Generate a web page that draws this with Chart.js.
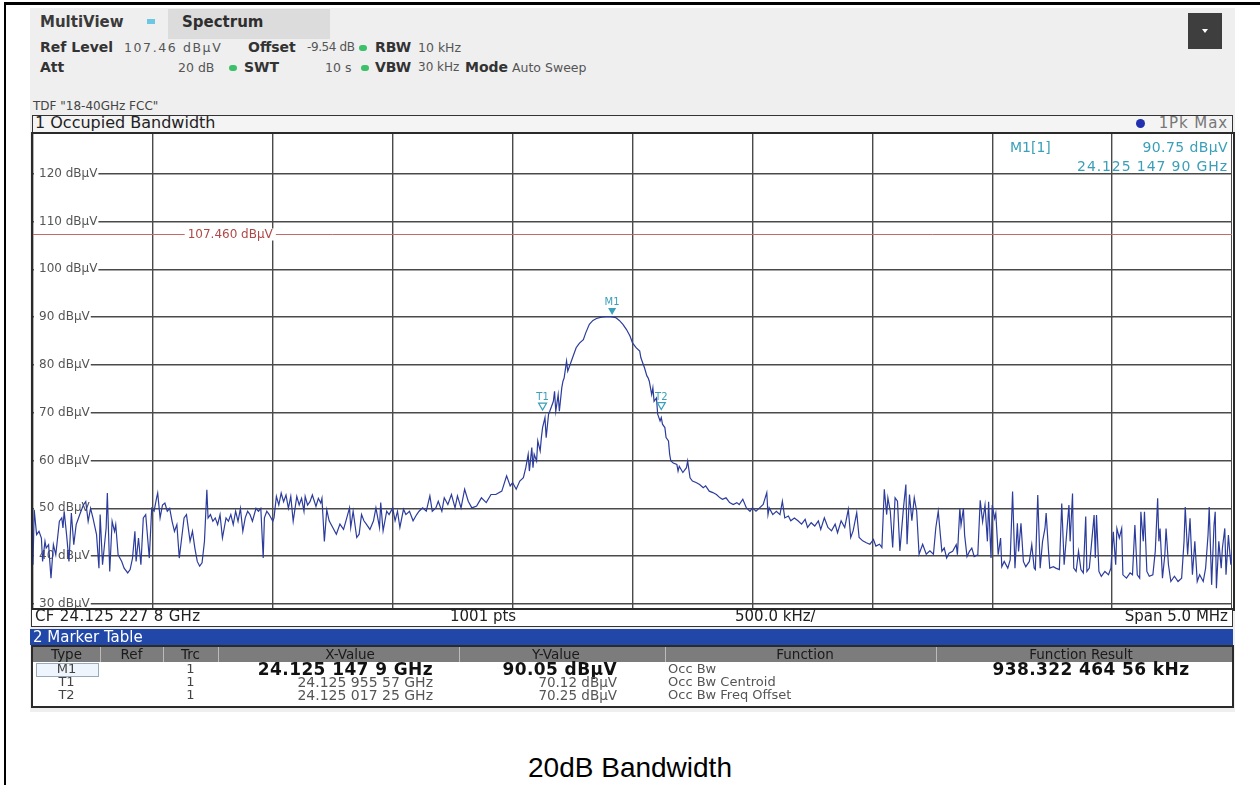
<!DOCTYPE html>
<html><head><meta charset="utf-8">
<script src="https://cdn.jsdelivr.net/npm/chart.js@4"></script>
<style>
body{margin:0;width:1260px;height:785px;background:#fff;position:relative;overflow:hidden;font-family:"DejaVu Sans",sans-serif;color:#333;}
.a{position:absolute;white-space:nowrap;}
.b{font-weight:bold;}
.h2{font-size:14px;line-height:17px;}
.v{font-size:12.5px;line-height:17px;color:#555;}
.dot{position:absolute;width:8px;height:6px;border-radius:3px;background:#3cc06a;}
.tc{position:absolute;white-space:nowrap;text-align:center;}
.tr{position:absolute;white-space:nowrap;text-align:right;}
.th{font-size:13.5px;line-height:15px;color:#1a1a1a;top:647px;}
.r1{top:662px;line-height:14px;}
.r2{top:675px;line-height:14px;}
.r3{top:688px;line-height:14px;}
.sm{font-size:13px;color:#444;}
</style></head><body>
<div class="a" style="left:4px;top:2px;width:1256px;height:3px;background:#000"></div>
<div class="a" style="left:4px;top:2px;width:2px;height:783px;background:#000"></div>
<div class="a" style="left:30px;top:8px;width:1205px;height:704px;background:#efefef"></div>

<div class="a b" style="left:40px;top:13px;font-size:15px;color:#3a3a3a">MultiView</div>
<div class="a" style="left:147px;top:19px;width:8px;height:5px;background:#6cc8e2"></div>
<div class="a" style="left:168px;top:9px;width:162px;height:30px;background:#dcdcdc"></div>
<div class="a b" style="left:182px;top:13px;font-size:15px;color:#2e2e2e">Spectrum</div>
<div class="a" style="left:1188px;top:13px;width:34px;height:36px;background:#3e3e3e"></div>
<div class="a" style="left:1202px;top:29px;width:0;height:0;border-left:3px solid transparent;border-right:3px solid transparent;border-top:4px solid #fff"></div>

<div class="a h2 b" style="left:40px;top:39px">Ref Level</div>
<div class="a v" style="left:124px;top:39px;letter-spacing:1.6px">107.46 dBµV</div>
<div class="a h2 b" style="left:248px;top:39px">Offset</div>
<div class="a v" style="left:307px;top:39px;font-size:12px;letter-spacing:-0.4px">-9.54 dB</div>
<div class="dot" style="left:359px;top:45px"></div>
<div class="a h2 b" style="left:375px;top:39px">RBW</div>
<div class="a v" style="left:418px;top:39px">10 kHz</div>

<div class="a h2 b" style="left:40px;top:59px">Att</div>
<div class="a v" style="left:178px;top:59px">20 dB</div>
<div class="dot" style="left:229px;top:65px"></div>
<div class="a h2 b" style="left:244px;top:59px">SWT</div>
<div class="a v" style="left:325px;top:59px">10 s</div>
<div class="dot" style="left:361px;top:65px"></div>
<div class="a h2 b" style="left:375px;top:59px">VBW</div>
<div class="a v" style="left:418px;top:59px;font-size:12px">30 kHz</div>
<div class="a h2 b" style="left:465px;top:59px">Mode</div>
<div class="a v" style="left:512px;top:59px">Auto Sweep</div>
<div class="a" style="left:33px;top:99px;font-size:12px;color:#444">TDF "18-40GHz FCC"</div>

<div class="a" style="left:32px;top:115px;width:1199px;height:17px;border:1px solid #333;background:#f4f4f4"></div>
<div class="a" style="left:35px;top:113px;font-size:16px;line-height:20px;color:#222">1 Occupied Bandwidth</div>
<div class="a" style="left:1136px;top:119px;width:9px;height:9px;border-radius:5px;background:#2030b0"></div>
<div class="tr" style="left:1000px;width:228px;top:113px;font-size:15px;line-height:20px;color:#777;letter-spacing:0.9px">1Pk Max</div>

<div class="a" style="left:31px;top:132px;width:1200px;height:475px;border:2px solid #2a2a2a;background:#fff"></div>
<canvas id="c" width="1199" height="475" style="position:absolute;left:33px;top:134px"></canvas>

<div class="a" style="left:1010px;top:139px;font-size:14px;color:#3a9fb8">M1[1]</div>
<div class="tr" style="left:1000px;width:228px;top:139px;font-size:14px;color:#3a9fb8;letter-spacing:0.4px">90.75 dBµV</div>
<div class="tr" style="left:1000px;width:228px;top:158px;font-size:14px;color:#3a9fb8;letter-spacing:0.9px">24.125 147 90 GHz</div>

<div class="a" style="left:31px;top:608px;width:1200px;height:16px;border:1px solid #333;border-top:2px solid #2a2a2a;background:#fff"></div>
<div class="a" style="left:35px;top:607px;font-size:15px;line-height:19px;color:#222;letter-spacing:0.3px">CF 24.125 227 8 GHz</div>
<div class="a" style="left:450px;top:607px;font-size:15px;line-height:19px;color:#222">1001 pts</div>
<div class="a" style="left:735px;top:607px;font-size:15px;line-height:19px;color:#222">500.0 kHz/</div>
<div class="tr" style="left:1000px;width:228px;top:607px;font-size:15px;line-height:19px;color:#222">Span 5.0 MHz</div>

<div class="a" style="left:30px;top:629px;width:1203px;height:16px;background:#2147a8"></div>
<div class="a" style="left:33px;top:628px;font-size:15px;line-height:18px;color:#fff">2 Marker Table</div>
<div class="a" style="left:31px;top:645px;width:1199px;height:59px;border:2px solid #2a2a2a;background:#fff"></div>
<div class="a" style="left:33px;top:647px;width:1199px;height:15px;background:#7c7c7c"></div>
<div class="a" style="left:100px;top:647px;width:1px;height:15px;background:#bbb"></div>
<div class="a" style="left:163px;top:647px;width:1px;height:15px;background:#bbb"></div>
<div class="a" style="left:218px;top:647px;width:1px;height:15px;background:#bbb"></div>
<div class="a" style="left:459px;top:647px;width:1px;height:15px;background:#bbb"></div>
<div class="a" style="left:665px;top:647px;width:1px;height:15px;background:#bbb"></div>
<div class="a" style="left:936px;top:647px;width:1px;height:15px;background:#bbb"></div>
<div class="tc th" style="left:33px;width:67px">Type</div>
<div class="tc th" style="left:100px;width:63px">Ref</div>
<div class="tc th" style="left:163px;width:55px">Trc</div>
<div class="tc th" style="left:250px;width:200px">X-Value</div>
<div class="tc th" style="left:456px;width:200px">Y-Value</div>
<div class="tc th" style="left:705px;width:200px">Function</div>
<div class="tc th" style="left:981px;width:200px">Function Result</div>

<div class="a" style="left:36px;top:663px;width:61px;height:12px;border:1px solid #9ab;background:#eef5fc"></div>
<div class="tc sm r1" style="left:33px;width:67px">M1</div>
<div class="tc sm r2" style="left:33px;width:67px">T1</div>
<div class="tc sm r3" style="left:33px;width:67px">T2</div>
<div class="tc sm r1" style="left:163px;width:55px">1</div>
<div class="tc sm r2" style="left:163px;width:55px">1</div>
<div class="tc sm r3" style="left:163px;width:55px">1</div>
<div class="tr r1" style="left:200px;width:233px;font-size:17px;font-weight:bold;color:#111;letter-spacing:0.4px">24.125 147 9 GHz</div>
<div class="tr r2" style="left:200px;width:233px;font-size:14px;color:#555">24.125 955 57 GHz</div>
<div class="tr r3" style="left:200px;width:233px;font-size:14px;color:#555">24.125 017 25 GHz</div>
<div class="tr r1" style="left:460px;width:157px;font-size:17px;font-weight:bold;color:#111;letter-spacing:0.4px">90.05 dBµV</div>
<div class="tr r2" style="left:460px;width:157px;font-size:13.5px;color:#555">70.12 dBµV</div>
<div class="tr r3" style="left:460px;width:157px;font-size:13.5px;color:#555">70.25 dBµV</div>
<div class="a r1" style="left:668px;font-size:13px;color:#555">Occ Bw</div>
<div class="a r2" style="left:668px;font-size:13px;color:#555">Occ Bw Centroid</div>
<div class="a r3" style="left:668px;font-size:13px;color:#555">Occ Bw Freq Offset</div>
<div class="tc r1" style="left:951px;width:280px;font-size:17px;font-weight:bold;color:#111;letter-spacing:0.4px">938.322 464 56 kHz</div>

<div class="tc" style="left:430px;width:400px;top:752px;font-size:28px;font-family:'Liberation Sans',Arial,sans-serif;color:#000">20dB Bandwidth</div>

<script>
// ---- data (sample index 0..1000 of 1001 pts, level in dBµV) ----
const traceIdx = [0,1,3,5,7,8,10,11,13,15,17,19,22,24,25,26,28,30,32,34,36,37,39,42,44,46,48,50,53,55,56,58,61,62,64,66,68,69,71,74,76,79,81,83,85,86,88,90,92,94,97,99,101,103,104,106,108,110,112,114,116,118,120,122,125,126,128,131,133,135,137,139,141,143,145,146,148,150,152,154,156,158,161,163,165,167,169,171,173,175,177,179,181,183,186,188,190,192,193,195,197,200,201,203,205,207,209,211,213,215,217,220,222,224,226,227,229,231,233,236,238,240,241,243,245,
247,250,253,256,259,261,264,265,267,270,272,274,276,278,281,284,286,289,290,292,295,297,300,302,304,306,309,311,314,317,320,322,325,328,331,333,336,338,341,343,346,349,352,354,357,360,363,366,370,374,378,382,386,391,395,398,400,403,406,409,411,413,414,416,417,418,420,421,423,424,425,427,428,430,431,432,434,435,436,438,439,441,442,443,445,446,448,450,453,455,456,459,461,464,467,470,474,478,482,486,489,492,495,498,
500,503,506,507,509,510,512,513,514,516,517,518,520,521,523,524,525,527,528,530,531,532,534,537,538,539,542,545,546,548,550,553,556,559,561,564,567,570,573,575,578,581,584,587,589,592,595,598,600,603,606,609,612,613,614,617,620,623,625,627,630,632,635,638,641,644,646,649,652,655,657,660,663,666,669,671,674,677,680,682,684,687,689,692,695,698,701,703,706,708,710,712,713,715,717,719,721,723,726,728,729,731,733,735,737,739,742,745,748,751,753,755,
758,760,762,764,767,770,771,773,774,776,777,779,781,783,785,788,790,792,794,796,797,799,800,802,803,805,807,808,810,813,815,817,819,821,822,824,826,828,831,833,835,836,838,840,842,844,845,847,848,851,853,856,858,860,862,864,865,867,868,870,872,874,876,878,879,881,883,885,886,887,889,891,894,897,899,901,903,904,906,908,909,912,915,917,919,921,923,924,926,927,929,931,934,936,938,939,940,942,944,945,947,949,952,955,958,960,961,963,965,967,969,971,973,976,978,980,981,983,985,986,987,989,991,992,994,995,997,999,1000];
const traceLevel = [38.2,49.7,44.5,45.2,43.8,38.9,43.1,41.7,42.4,35.4,42.4,40.3,47.3,48.0,45.9,49.4,44.5,38.9,49.0,42.4,46.6,47.3,48.7,50.7,51.4,47.3,50.0,48.0,44.5,37.5,48.7,38.2,45.9,53.2,36.8,47.3,45.2,46.6,40.3,38.9,37.5,36.5,37.2,39.6,45.2,38.9,43.8,38.2,48.0,48.7,39.6,50.0,49.4,52.1,53.2,48.0,50.7,51.1,49.4,50.0,47.3,45.2,46.6,39.6,45.9,48.0,48.7,43.1,45.2,41.7,38.9,37.9,38.6,43.1,53.9,48.0,48.7,47.3,48.0,46.6,48.7,43.8,48.0,47.3,48.7,46.6,49.4,47.3,50.0,45.2,48.0,49.4,48.7,47.3,50.0,49.4,50.0,39.6,48.0,49.4,48.7,47.3,48.0,52.5,50.7,53.2,51.4,52.8,50.0,52.5,47.3,52.5,50.7,52.1,49.4,52.5,50.7,51.4,52.8,50.4,52.1,51.1,52.1,43.1,49.7,
47.4,46.0,44.6,46.7,45.6,47.4,50.1,46.0,49.4,43.9,44.6,48.7,47.4,46.7,45.6,47.4,50.1,46.0,51.2,45.3,49.4,48.7,50.1,47.4,49.4,46.0,49.8,48.7,49.4,47.4,48.7,49.4,50.1,49.4,52.6,49.4,50.1,51.5,49.4,52.2,50.8,52.9,50.1,52.6,50.1,54.0,51.5,50.1,50.5,52.2,51.2,52.9,52.9,53.6,56.8,54.7,55.4,54.0,55.7,56.4,58.5,61.3,57.8,62.7,58.5,61.3,59.9,64.1,62.0,64.8,66.9,69.0,64.8,69.7,70.3,71.0,72.4,74.5,70.3,73.8,70.3,75.2,76.6,77.3,80.8,78.7,80.1,81.5,83.6,84.3,84.6,85.3,86.7,88.5,89.3,89.7,90.0,90.1,90.1,89.9,89.3,88.5,87.4,86.0,
84.6,83.6,82.9,81.5,80.1,79.4,77.7,77.3,76.6,73.8,75.2,72.4,73.1,69.7,68.3,69.0,67.6,66.9,64.8,64.1,61.3,59.9,59.5,59.2,57.8,58.8,57.5,58.5,59.9,56.4,55.7,55.4,55.0,54.3,54.7,53.6,53.3,52.9,52.2,51.9,52.2,51.2,50.8,51.2,50.8,51.9,50.1,49.4,50.1,49.4,50.1,50.8,53.3,48.7,50.1,48.7,49.4,48.7,51.5,48.0,48.4,47.4,48.0,47.4,46.7,47.7,46.0,47.0,46.3,47.4,45.6,48.0,46.0,45.3,46.7,44.9,47.4,46.0,49.8,43.9,45.3,49.1,43.9,43.2,42.8,42.5,43.5,42.1,42.5,41.8,54.0,48.7,52.2,49.4,41.8,52.2,51.5,41.1,50.1,55.0,42.5,52.9,47.4,52.2,49.4,40.4,42.5,40.4,41.1,40.4,46.0,49.4,
41.0,41.7,39.6,40.6,41.0,42.4,40.3,50.0,46.5,50.0,44.4,39.9,41.0,41.7,39.9,40.3,51.7,47.2,50.7,43.1,51.4,39.6,50.7,47.9,49.0,40.3,43.8,37.8,38.9,37.5,39.2,53.5,37.5,46.9,41.0,46.9,38.9,37.8,38.9,42.4,37.5,37.2,52.8,37.5,43.1,45.8,49.0,41.0,37.5,37.8,37.5,37.2,51.0,38.2,44.4,50.7,43.1,53.1,37.5,36.8,41.0,37.2,36.5,48.3,36.8,37.5,43.1,48.6,39.6,48.6,36.8,35.8,36.8,36.1,37.5,45.1,38.2,45.8,43.8,45.8,36.1,35.4,36.5,36.1,46.5,36.1,35.4,49.3,43.1,49.3,36.8,35.8,36.1,41.0,52.1,43.1,45.8,35.4,40.3,45.8,38.2,34.7,35.8,34.7,35.4,43.1,50.3,40.3,47.9,36.1,43.1,34.7,36.1,34.7,37.5,44.4,50.3,34.0,46.5,49.3,33.3,43.1,37.5,41.7,45.8,36.1,44.4,38.2,41.0];

const xGridIdx = [0,100,200,300,400,500,600,700,800,900,1000];
const yTickValues = [30,40,50,60,70,80,90,100,110,120];
const yTickLabels = ['30 dBµV','40 dBµV','50 dBµV','60 dBµV','70 dBµV','80 dBµV','90 dBµV','100 dBµV','110 dBµV','120 dBµV'];
const refLevel = 107.46;
const refLabel = '107.460 dBµV';
const markerNames = ['M1','T1','T2'];
const markerIdx = [483,425,524];
const markerLevel = [90.05,70.12,70.25];
const markerFilled = [true,false,false];

const TEAL = '#3a9fb8';
const overlay = {
  id:'overlay',
  beforeDatasetsDraw(chart){
    const {ctx, chartArea:ca, scales:{x,y}} = chart;
    ctx.save();
    const ry = Math.round(y.getPixelForValue(refLevel))+0.5;
    ctx.strokeStyle = '#c46a6a'; ctx.lineWidth = 1;
    ctx.beginPath(); ctx.moveTo(ca.left, ry); ctx.lineTo(ca.right, ry); ctx.stroke();
    ctx.font = '12px "DejaVu Sans"'; ctx.textBaseline = 'middle';
    const rw = ctx.measureText(refLabel).width;
    const rx = x.getPixelForValue(129);
    ctx.fillStyle = '#fff'; ctx.fillRect(rx-3, ry-6, rw+6, 12);
    ctx.fillStyle = '#b04848'; ctx.fillText(refLabel, rx, ry);
    ctx.font = '12px "DejaVu Sans"';
    yTickValues.forEach((v,i)=>{
      const py = y.getPixelForValue(v);
      const w = ctx.measureText(yTickLabels[i]).width;
      ctx.fillStyle = '#fff'; ctx.fillRect(ca.left+1, py-6, w+6, 12);
      ctx.fillStyle = '#555'; ctx.fillText(yTickLabels[i], ca.left+6, py);
    });
    ctx.restore();
  },
  afterDatasetsDraw(chart){
    const {ctx, scales:{x,y}} = chart;
    ctx.save();
    ctx.font = '10px "DejaVu Sans"'; ctx.textAlign = 'center'; ctx.textBaseline = 'alphabetic';
    markerNames.forEach((n,i)=>{
      const px = x.getPixelForValue(markerIdx[i]);
      const py = y.getPixelForValue(markerLevel[i]) - 2;
      ctx.beginPath(); ctx.moveTo(px-4, py-7); ctx.lineTo(px+4, py-7); ctx.lineTo(px, py); ctx.closePath();
      if (markerFilled[i]) { ctx.fillStyle = TEAL; ctx.fill(); }
      else { ctx.strokeStyle = TEAL; ctx.lineWidth = 1.2; ctx.stroke(); }
      ctx.fillStyle = TEAL; ctx.fillText(n, px, py-10);
    });
    ctx.restore();
  }
};

new Chart(document.getElementById('c'), {
  type:'line',
  data:{datasets:[{
    data: traceIdx.map((v,i)=>({x:v, y:traceLevel[i]})),
    borderColor:'#2c3c9c', borderWidth:1.2, pointRadius:0, tension:0, fill:false
  }]},
  options:{
    responsive:false, animation:false, events:[],
    layout:{padding:0},
    plugins:{legend:{display:false}, tooltip:{enabled:false}},
    scales:{
      x:{type:'linear', min:0, max:1000,
         afterBuildTicks:a=>{a.ticks = xGridIdx.map(v=>({value:v}));},
         ticks:{display:false}, grid:{color:'#4a4a4a', lineWidth:1.4, drawTicks:false}, border:{display:false}},
      y:{type:'linear', min:28.95, max:128.3,
         afterBuildTicks:a=>{a.ticks = yTickValues.map(v=>({value:v}));},
         ticks:{display:false}, grid:{color:'#4a4a4a', lineWidth:1.4, drawTicks:false}, border:{display:false}}
    }
  },
  plugins:[overlay]
});
</script>
</body></html>
